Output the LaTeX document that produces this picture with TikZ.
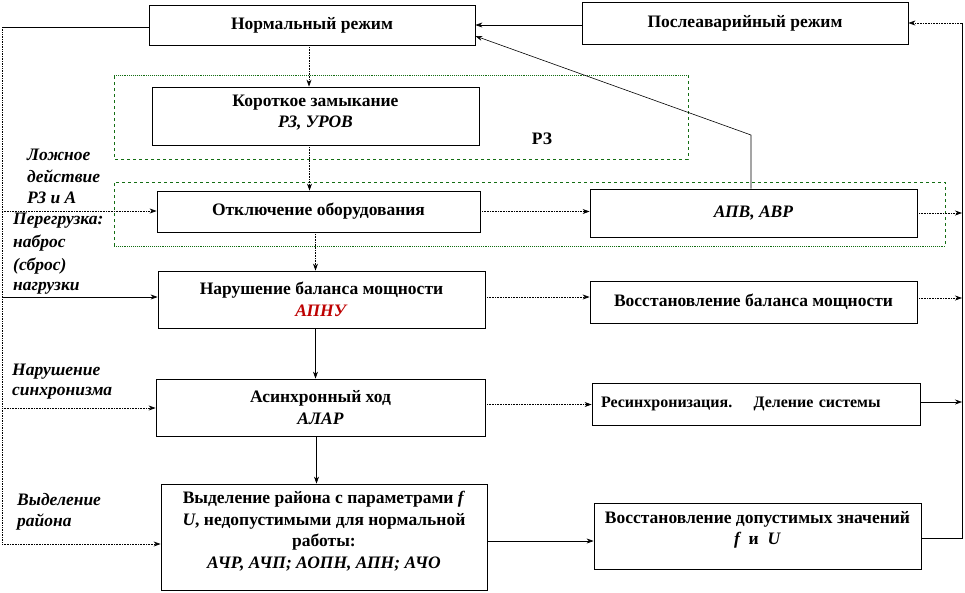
\documentclass[tikz,border=0pt]{standalone}
\usepackage{fontspec}
\setmainfont{Liberation Serif}
\usetikzlibrary{arrows.meta,calc}
\definecolor{grpgreen}{RGB}{20,110,20}
\definecolor{apnured}{RGB}{190,0,0}
\begin{document}
\begin{tikzpicture}[x=1pt,y=-1pt,
  box/.style={draw=black, line width=0.8pt, fill=white, inner sep=2pt, align=center,
    font=\fontsize{17.5}{21.5}\selectfont\bfseries},
  txt/.style={inner sep=0pt, align=center, font=\fontsize{17.5}{21.5}\selectfont\bfseries},
  arr/.style={-{Stealth[length=7pt,width=5pt]}, line width=0.6pt},
  dotl/.style={densely dotted, line width=0.7pt},
  grp/.style={draw=grpgreen, dashed, line width=0.7pt},
  grpdot/.style={draw=grpgreen, densely dotted, line width=0.9pt},
  lbl/.style={font=\fontsize{17.5}{21}\selectfont\bfseries\itshape, anchor=west, inner sep=0pt}]
\useasboundingbox (0,0) rectangle (965,592);

% group frames
\draw[grpdot] (114,75) -- (688,75);
\draw[grp] (688,75) -- (688,159) -- (114,159) -- (114,75);
\draw[grp] (114,246) -- (114,182) -- (945,182) -- (945,246);
\draw[grpdot] (114,246) -- (945,246);

% boxes
\node[box, minimum width=326pt, minimum height=40pt] (norm) at (312,25) {\raisebox{2pt}{Нормальный режим}};
\node[box, minimum width=326pt, minimum height=42pt] (post) at (745,23) {\raisebox{3pt}{Послеаварийный режим}};
\node[box, minimum width=327pt, minimum height=58pt] (kz) at (315.5,116) {};
\node[txt] (kzt) at (315.5,112.5) {Короткое замыкание\\ \textit{РЗ, УРОВ}};
\node[box, minimum width=323pt, minimum height=41pt] (otkl) at (318.5,211.5) {\raisebox{3pt}{Отключение оборудования}};
\node[box, minimum width=327pt, minimum height=48pt] (apv) at (753.5,213) {\textit{АПВ, АВР}};
\node[box, minimum width=327pt, minimum height=57pt] (bal) at (321.5,299.5) {Нарушение баланса мощности\\ \textcolor{apnured}{\textit{АПНУ}}};
\node[box, minimum width=327pt, minimum height=42pt] (rbal) at (753.5,302) {\raisebox{3pt}{Восстановление баланса мощности}};
\node[box, minimum width=329pt, minimum height=57pt] (async) at (320.5,407.5) {Асинхронный ход\\ \textit{АЛАР}};
\node[box, minimum width=328pt, minimum height=42pt, text width=310pt, align=left,
  font=\fontsize{16}{20}\selectfont\bfseries] (resync) at (756,404) {\raisebox{2pt}{Ресинхронизация.\quad\ Деление системы}};
\node[box, minimum width=326pt, minimum height=106pt] (vyd) at (324,537) {};
\node[txt] (vydt) at (324,531) {Выделение района с параметрами \textit{f}\\ \textit{U}, недопустимыми для нормальной\\ работы:\\ \textit{АЧР, АЧП; АОПН, АПН; АЧО}};
\node[box, minimum width=327pt, minimum height=66pt] (rfu) at (757.5,536) {};
\node[txt] (rfut) at (757.5,530) {Восстановление допустимых значений\\ \textit{f}\, и \ \textit{U}};

\node[txt] (rz) at (542,139) {РЗ};

% left labels
\node[lbl] (l1) at (27,155) {Ложное};
\node[lbl] (l2) at (27,176) {действие};
\node[lbl] (l3) at (27,198) {РЗ и А};
\node[lbl] (l4) at (13,221) {Перегрузка:};
\node[lbl] (l5) at (13,243) {наброс};
\node[lbl] (l6) at (13,266) {(сброс)};
\node[lbl] (l7) at (13,288) {нагрузки};
\node[lbl] (l8) at (12,372) {Нарушение};
\node[lbl] (l9) at (12,393) {синхронизма};
\node[lbl] (l10) at (17,500) {Выделение};
\node[lbl] (l11) at (17,522) {района};

% left bus
\coordinate (LT) at (2,27);
\coordinate (L1) at (2,211);
\coordinate (L2) at (2,297);
\coordinate (L3) at (2,408);
\coordinate (LB) at (2,544);
\draw[line width=0.7pt] (LT -| norm.west) -- (LT);
\draw[dotl] (LT) -- (LB);
\draw[arr, dotl] (LB) -- (LB -| vyd.west);
\draw[arr, dotl] (L1) -- (L1 -| otkl.west);
\draw[arr] (L2) -- (L2 -| bal.west);
\draw[arr, dotl] (L3) -- (L3 -| async.west);

% vertical chain
\draw[arr, dotl] ([xshift=-3pt]norm.south) -- ([xshift=-3pt]norm.south |- kz.north);
\draw[arr, dotl] ([xshift=-6pt]kz.south) -- ([xshift=-6pt]kz.south |- otkl.north);
\draw[arr, dotl] ([xshift=-3pt]otkl.south) -- ([xshift=-3pt]otkl.south |- bal.north);
\draw[arr] ([xshift=-6pt]bal.south) -- ([xshift=-6pt]bal.south |- async.north);
\draw[arr] ([xshift=-4pt]async.south) -- ([xshift=-4pt]async.south |- vyd.north);

% horizontal to right column
\draw[arr, dotl] (otkl.east) -- (otkl.east -| apv.west);
\draw[arr, dotl] ([yshift=2.5pt]bal.east) -- ([yshift=2.5pt]bal.east -| rbal.west);
\draw[arr, dotl] ([yshift=3pt]async.east) -- ([yshift=3pt]async.east -| resync.west);
\draw[arr] ([yshift=-4pt]vyd.east) -- ([yshift=-4pt]vyd.east -| rfu.west);

% returns to normal
\draw[arr, line width=0.7pt] ([yshift=-2pt]post.west) -- ([yshift=-2pt]post.west -| norm.east);
\coordinate (K) at (751,135);
\draw[arr, line width=0.6pt] ([xshift=-2.5pt]apv.north) -- (K) -- ([yshift=-11pt]norm.east);

% right bus
\coordinate (RB) at (962,538);
\coordinate (RT) at (962,23);
\draw[line width=0.7pt] (RB -| rfu.east) -- (RB) -- (RT);
\draw[arr, dotl] (RT) -- (RT -| post.east);
\draw[arr, dotl] (apv.east) -- (apv.east -| RT);
\draw[arr, dotl] ([yshift=4pt]rbal.east) -- ([yshift=4pt]rbal.east -| RT);
\draw[arr] ([yshift=2pt]resync.east) -- ([yshift=2pt]resync.east -| RT);
\end{tikzpicture}
\end{document}
